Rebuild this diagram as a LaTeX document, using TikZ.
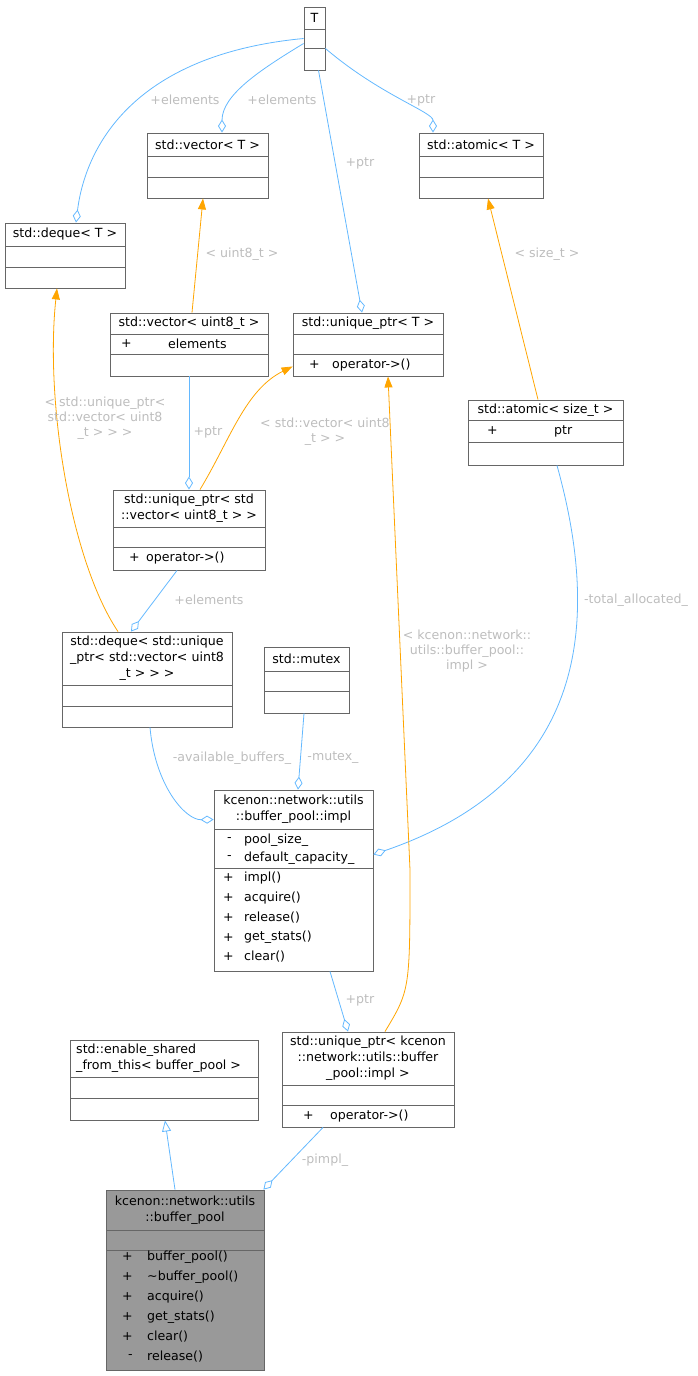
\documentclass[tikz,border=0pt]{standalone}
\usepackage{fontspec}
\setmainfont{DejaVu Sans}
\usetikzlibrary{arrows.meta}
\definecolor{edgeblue}{HTML}{63B8FF}
\definecolor{edgeorange}{HTML}{FFA500}
\definecolor{lblgray}{HTML}{BDBDBD}
\definecolor{boxgray}{HTML}{666666}
\definecolor{fillgray}{HTML}{999999}

\tikzset{
  cls/.style={draw=boxgray, fill=white, inner sep=0pt, line width=0.9pt},
  sep/.style={draw=boxgray, line width=0.9pt},
  ttl/.style={inner sep=0pt, align=center, font=\fontsize{12.6}{16}\selectfont},
  mem/.style={inner sep=0pt, anchor=west, font=\fontsize{12.6}{15}\selectfont},
  lbl/.style={inner sep=0pt, text=lblgray, align=center, font=\fontsize{12.6}{15}\selectfont},
  agg/.style={draw=edgeblue, line width=0.8pt, -{Diamond[open,length=13pt,width=8pt]}},
  tmpl/.style={draw=edgeorange, line width=0.8pt, -{Triangle[length=11pt,width=8pt]}},
  inh/.style={draw=edgeblue, line width=0.8pt, -{Triangle[open,length=11pt,width=9pt]}}
}

\begin{document}
\begin{tikzpicture}[x=1pt,y=-1pt]
    \useasboundingbox (0,0) rectangle (697,1376);
    % class boxes
    \node[cls, minimum width=21pt, minimum height=63pt] (T) at (314.5,38.5) {};
    \draw[sep] (304,29) -- (325,29) (304,48) -- (325,48);
    \node[ttl] at (314.5,18) {T};

    \node[cls, minimum width=121pt, minimum height=65pt] (vecT) at (207.5,165.5) {};
    \draw[sep] (147,156) -- (268,156) (147,177) -- (268,177);
    \node[ttl] at (207.5,144.5) {std::vector< T >};

    \node[cls, minimum width=124pt, minimum height=65pt] (atomT) at (481,165.5) {};
    \draw[sep] (419,156) -- (543,156) (419,177) -- (543,177);
    \node[ttl] at (481,144.5) {std::atomic< T >};

    \node[cls, minimum width=120pt, minimum height=65pt] (dequeT) at (65,255.5) {};
    \draw[sep] (5,246) -- (125,246) (5,267) -- (125,267);
    \node[ttl] at (65,234.5) {std::deque< T >};

    \node[cls, minimum width=158pt, minimum height=63pt] (vecU8) at (189,344.5) {};
    \draw[sep] (110,334) -- (268,334) (110,354) -- (268,354);
    \node[ttl] at (189,323.5) {std::vector< uint8\_t >};
    \node[mem] at (121,344) {+};
    \node[mem] at (168,344) {elements};

    \node[cls, minimum width=150pt, minimum height=63pt] (uptrT) at (368,344.5) {};
    \draw[sep] (293,334) -- (443,334) (293,354) -- (443,354);
    \node[ttl] at (368,323.5) {std::unique\_ptr< T >};
    \node[mem] at (309,365) {+};
    \node[mem] at (332,365) {operator->()};

    \node[cls, minimum width=155pt, minimum height=65pt] (atomS) at (545.5,432.5) {};
    \draw[sep] (468,420) -- (623,420) (468,442) -- (623,442);
    \node[ttl] at (545.5,410) {std::atomic< size\_t >};
    \node[mem] at (487,431) {+};
    \node[mem] at (554,431) {ptr};

    \node[cls, minimum width=152pt, minimum height=80pt] (uptrV) at (189,530) {};
    \draw[sep] (113,527) -- (265,527) (113,547) -- (265,547);
    \node[ttl] at (189,508) {std::unique\_ptr< std\\::vector< uint8\_t > >};
    \node[mem] at (129,558) {+};
    \node[mem] at (146,558) {operator->()};

    \node[cls, minimum width=170pt, minimum height=95pt] (dequeU) at (147,679.5) {};
    \draw[sep] (62,685) -- (232,685) (62,706) -- (232,706);
    \node[ttl] at (147,658) {std::deque< std::unique\\\_ptr< std::vector< uint8\\\_t > > >};

    \node[cls, minimum width=85pt, minimum height=66pt] (mutex) at (306.5,680) {};
    \draw[sep] (264,671) -- (349,671) (264,691) -- (349,691);
    \node[ttl] at (306.5,659) {std::mutex};

    \node[cls, minimum width=159pt, minimum height=181pt] (impl) at (293.5,880.5) {};
    \draw[sep] (214,829) -- (373,829) (214,868) -- (373,868);
    \node[ttl] at (293.5,809.5) {kcenon::network::utils\\::buffer\_pool::impl};
    \node[mem] at (227,840) {-};
    \node[mem] at (244,840) {pool\_size\_};
    \node[mem] at (227,858) {-};
    \node[mem] at (244,858) {default\_capacity\_};
    \foreach \m [count=\i from 0] in {impl(),acquire(),release(),get\_stats(),clear()} {
        \node[mem] at (223,878+19.7*\i) {+};
        \node[mem] at (244,878+19.7*\i) {\m};
    }

    \node[cls, minimum width=188pt, minimum height=80pt] (enable) at (164,1080) {};
    \draw[sep] (70,1077) -- (258,1077) (70,1098) -- (258,1098);
    \node[ttl, align=left, anchor=west] at (76,1058) {std::enable\_shared\\\_from\_this< buffer\_pool >};

    \node[cls, minimum width=172pt, minimum height=95pt] (uptrK) at (368,1079.5) {};
    \draw[sep] (282,1085) -- (454,1085) (282,1105) -- (454,1105);
    \node[ttl] at (368,1058) {std::unique\_ptr< kcenon\\::network::utils::buffer\\\_pool::impl >};
    \node[mem] at (303,1116) {+};
    \node[mem] at (330,1116) {operator->()};

    \node[cls, fill=fillgray, minimum width=158pt, minimum height=180pt] (bp) at (185,1280) {};
    \draw[sep] (106,1230) -- (264,1230) (106,1250) -- (264,1250);
    \node[ttl] at (185,1210) {kcenon::network::utils\\::buffer\_pool};
    \foreach \s/\m [count=\i from 0] in {+/buffer\_pool(),+/\textasciitilde buffer\_pool(),+/acquire(),+/get\_stats(),+/clear(),-/release()} {
        \node[mem] at (\ifnum\i=5 128\else 122\fi,1257+20*\i) {\s};
        \node[mem] at (147,1257+20*\i) {\m};
    }

    % connectors
    \draw[agg] (T.west) .. controls (130,55) and (85,150) .. ([xshift=11pt]dequeT.north);
    \node[lbl] at (185,100) {+elements};
    \draw[agg] ([yshift=-5pt]T.west) .. controls (260,70) and (222,95) .. ([xshift=14.5pt]vecT.north);
    \node[lbl] at (282,100) {+elements};
    \draw[agg] ([yshift=-10pt]T.east) .. controls (380,95) and (433,112) .. ([xshift=-48pt]atomT.north);
    \node[lbl] at (421,100) {+ptr};
    \draw[agg] ([xshift=4pt]T.south) -- ([xshift=-6pt]uptrT.north);
    \node[lbl] at (360,163) {+ptr};

    \draw[tmpl] ([xshift=3pt]vecU8.north) -- ([xshift=-4.5pt]vecT.south);
    \node[lbl] at (242,254) {< uint8\_t >};
    \draw[tmpl] ([xshift=-7.5pt]atomS.north) -- ([xshift=7pt]atomT.south);
    \node[lbl] at (547,254) {< size\_t >};

    \draw[tmpl] ([xshift=-29pt]dequeU.north) .. controls (70,560) and (45,400) .. ([xshift=-8pt]dequeT.south);
    \node[lbl] at (105,418) {< std::unique\_ptr<\\std::vector< uint8\\\_t > > >};
    \draw[tmpl] ([xshift=11pt]uptrV.north) .. controls (230,440) and (245,390) .. ([yshift=10pt]uptrT.south west);
    \node[lbl] at (325,432) {< std::vector< uint8\\\_t > >};
    \draw[agg] (vecU8.south) -- (uptrV.north);
    \node[lbl] at (208,432) {+ptr};

    \draw[agg] ([xshift=-12pt]uptrV.south) -- ([xshift=-29pt]dequeU.north -| 160,0);
    \node[lbl] at (209,600) {+elements};
    \draw[agg] ([xshift=3pt]dequeU.south) .. controls (155,785) and (185,820) .. ([yshift=-30pt]impl.north west);
    \node[lbl] at (232,758) {-available\_buffers\_};
    \draw[agg] ([xshift=-2.5pt]mutex.south) -- ([xshift=4.5pt]impl.north);
    \node[lbl] at (333,758) {-mutex\_};
    \draw[agg] ([xshift=11.5pt]atomS.south) .. controls (600,620) and (590,780) .. ([yshift=-65pt]impl.north east);
    \node[lbl] at (636,600) {-total\_allocated\_};

    \draw[tmpl] ([xshift=17pt]uptrK.north) .. controls (410,990) .. (410,870) -- ([xshift=20pt]uptrT.south);
    \node[lbl] at (467,651) {< kcenon::network::\\utils::buffer\_pool::\\impl >};
    \draw[agg] ([xshift=36.5pt]impl.south) -- ([xshift=-20pt]uptrK.north);
    \node[lbl] at (360,1000) {+ptr};

    \draw[inh] ([xshift=-10pt]bp.north) -- ([xshift=1pt]enable.south);
    \draw[agg] ([xshift=-45pt]uptrK.south) -- ([xshift=-1pt]bp.north east);
    \node[lbl] at (325,1160) {-pimpl\_};
\end{tikzpicture}
\end{document}
